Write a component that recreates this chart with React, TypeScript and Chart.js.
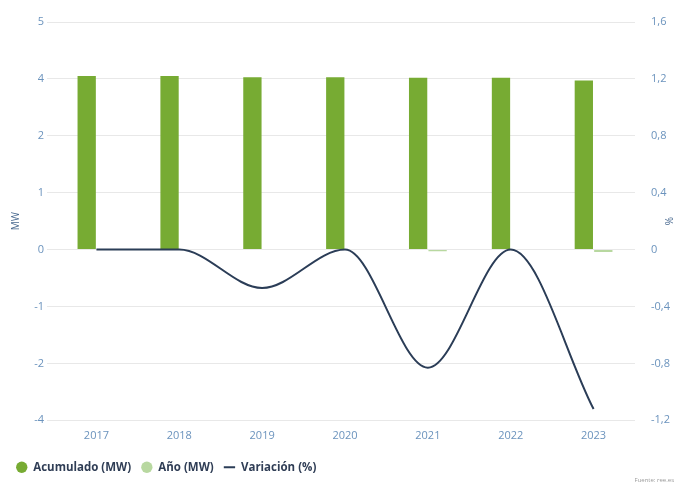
import React, { useEffect, useRef } from "react";
import { Chart, registerables } from "chart.js";

Chart.register(...registerables);

const years = ["2017", "2018", "2019", "2020", "2021", "2022", "2023"];
const acumulado = [3.05, 3.05, 3.03, 3.03, 3.02, 3.02, 2.97];
const anio = [0, 0, 0, 0, -0.03, 0, -0.04];
const variacion = [0, 0, -0.27, 0, -0.83, 0, -1.12];
const leftTickLabels = ["-4", "-2", "-1", "0", "1", "2", "4", "5"]; // bottom to top
const FONT = "'Open Sans', 'Noto Sans', sans-serif";

export default function App() {
  const ref = useRef<HTMLCanvasElement>(null);
  useEffect(() => {
    const ctx = ref.current!;
    const chart = new Chart(ctx, {
      type: "bar",
      data: {
        labels: years,
        datasets: [
          {
            type: "line",
            label: "Variación (%)",
            data: variacion,
            yAxisID: "y1",
            borderColor: "#2b3d57",
            backgroundColor: "#2b3d57",
            borderWidth: 2,
            pointRadius: 0,
            pointStyle: "line",
            cubicInterpolationMode: "monotone",
            order: 0,
          } as any,
          {
            label: "Acumulado (MW)",
            data: acumulado,
            yAxisID: "y",
            backgroundColor: "#77ab33",
            pointStyle: "circle",
            categoryPercentage: 0.47,
            barPercentage: 0.94,
            order: 1,
          } as any,
          {
            label: "Año (MW)",
            data: anio,
            yAxisID: "y",
            backgroundColor: "#b8d8a0",
            pointStyle: "circle",
            categoryPercentage: 0.47,
            barPercentage: 0.94,
            order: 1,
          } as any,
        ],
      },
      options: {
        animation: false,
        responsive: false,
        layout: { padding: { top: 22, left: 6, right: 0, bottom: 3 } },
        plugins: {
          tooltip: { enabled: false },
          legend: {
            position: "bottom",
            align: "start",
            labels: {
              usePointStyle: true,
              boxHeight: 8,
              padding: 10,
              color: "#2f3d55",
              font: { family: FONT, size: 11.5, weight: "bold" },
              sort: (a: any, b: any) => {
                const order = ["Acumulado (MW)", "Año (MW)", "Variación (%)"];
                return order.indexOf(a.text) - order.indexOf(b.text);
              },
            },
          },
        },
        scales: {
          x: {
            grid: { display: false },
            border: { display: false },
            ticks: { color: "#6b93bd", font: { family: FONT, size: 11 }, padding: 1 },
            afterFit: (s: any) => {
              s.height += 8;
            },
          },
          y: {
            position: "left",
            min: -3,
            max: 4,
            ticks: {
              stepSize: 1,
              color: "#6b93bd",
              font: { family: FONT, size: 11 },
              callback: (_v: any, i: number) => leftTickLabels[i],
            },
            grid: { color: "#e8e8e8" },
            border: { display: false },
            title: {
              display: true,
              text: "MW",
              color: "#4a6a90",
              font: { family: FONT, size: 10 },
            },
            afterFit: (s: any) => {
              s.width = 49;
            },
          },
          y1: {
            position: "right",
            min: -1.2,
            max: 1.6,
            ticks: {
              stepSize: 0.4,
              color: "#6b93bd",
              font: { family: FONT, size: 11 },
              padding: 8,
              callback: (v: any) => {
                const n = Math.round(Number(v) * 10) / 10;
                return n === 0 ? "0" : n.toFixed(1).replace(".", ",");
              },
            },
            grid: { display: false },
            border: { display: false },
            title: {
              display: true,
              text: "%",
              color: "#4a6a90",
              font: { family: FONT, size: 10 },
            },
            afterFit: (s: any) => {
              s.width = 43;
            },
          },
        },
      },
    });
    return () => chart.destroy();
  }, []);
  return (
    <div style={{ position: "fixed", left: 0, top: 0, width: 678, height: 486, background: "#fff" }}>
      <canvas ref={ref} width={678} height={486} />
      <div
        style={{
          position: "absolute",
          right: 4,
          top: 476,
          fontFamily: FONT,
          fontSize: 6,
          color: "#9a9a9a",
        }}
      >
        Fuente: ree.es
      </div>
    </div>
  );
}
